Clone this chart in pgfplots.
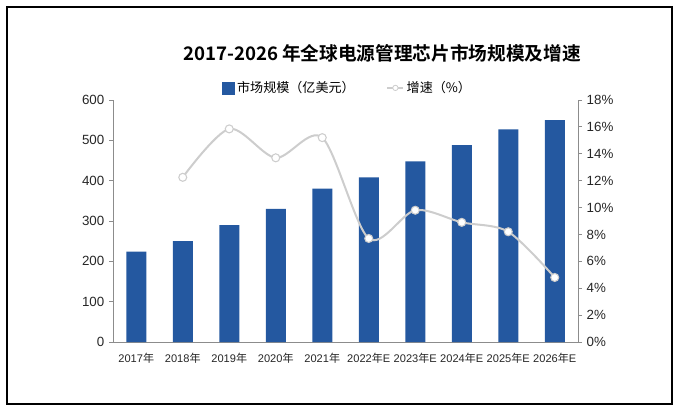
\documentclass[border=0pt]{standalone}
\usepackage{fontspec}
\setmainfont{Liberation Sans}
\newfontfamily\cjk{Noto Sans CJK SC}[BoldFont={* Bold}]
\usepackage{pgfplots}
\pgfplotsset{compat=1.18}
\definecolor{barblue}{RGB}{36,88,160}
\definecolor{lgray}{RGB}{205,205,205}
\definecolor{axgray}{RGB}{140,140,140}
\begin{document}
\begin{tikzpicture}[x=0.75pt,y=0.75pt]
\useasboundingbox (0,0) rectangle (679,412);
\draw[black, line width=1.5pt] (7,8) rectangle (672,405);
\node[font=\cjk\bfseries\fontsize{14}{16}\selectfont] at (382,359) {2017-2026 年全球电源管理芯片市场规模及增速};
\begin{axis}[
  at={(84.75pt,52.5pt)}, anchor=south west, scale only axis,
  width=348.75pt, height=181.5pt,
  xmin=-0.5, xmax=9.5, ymin=0, ymax=600,
  ytick={0,100,...,600},
  axis x line*=bottom, axis y line*=left,
  axis line style={axgray, line width=0.6pt},
  xtick={0,...,9},
  xticklabels={2017{\cjk 年},2018{\cjk 年},2019{\cjk 年},2020{\cjk 年},2021{\cjk 年},2022{\cjk 年}E,2023{\cjk 年}E,2024{\cjk 年}E,2025{\cjk 年}E,2026{\cjk 年}E},
  xtick style={draw=none},
  minor xtick={-0.5,0.5,...,9.5},
  minor x tick style={axgray, line width=0.6pt},
  minor tick length=4pt,
  ytick style={axgray, line width=0.6pt},
  major tick length=3pt,
  tick align=outside,
  /pgf/number format/assume math mode=true,
  yticklabel style={font=\fontsize{10}{12}\selectfont, text=black!85},
  xticklabel style={font=\fontsize{8.3}{10}\selectfont, text=black!85, yshift=-2pt},
]
\addplot[ybar, bar width=15pt, fill=barblue, draw=none] coordinates {
(0,224) (1,250) (2,290) (3,330) (4,380) (5,408) (6,448) (7,488) (8,527) (9,550)};
\end{axis}
\begin{axis}[
  at={(84.75pt,52.5pt)}, anchor=south west, scale only axis,
  width=348.75pt, height=181.5pt,
  xmin=-0.5, xmax=9.5, ymin=0, ymax=18,
  ytick={0,2,...,18},
  axis x line=none, axis y line*=right,
  axis line style={axgray, line width=0.6pt},
  ytick style={axgray, line width=0.6pt},
  major tick length=3pt,
  tick align=outside,
  /pgf/number format/assume math mode=true,
  yticklabel={\pgfmathprintnumber{\tick}\%},
  yticklabel style={font=\fontsize{10}{12}\selectfont, text=black!85},
  legend style={at={(0.505,1.05)}, anchor=center, draw=none, fill=none,
    font=\cjk\fontsize{9.8}{11}\selectfont, legend columns=2,
    /tikz/every even column/.append style={column sep=22pt}},
  legend image code/.code={},
]
\addlegendimage{legend image code/.code={\fill[barblue] (0pt,-4.5pt) rectangle (9pt,4.5pt);}}
\addlegendentry{市场规模（亿美元）}
\addlegendimage{legend image code/.code={\draw[lgray, line width=1pt] (0pt,0pt) -- (12pt,0pt); \draw[lgray, fill=white, line width=0.6pt] (6pt,0pt) circle (2pt);}}
\addlegendentry{增速（\%）}
\addplot[lgray, line width=1.5pt, smooth, mark=*, mark options={fill=white, draw=lgray, line width=0.8pt}, mark size=3pt, forget plot] coordinates {
(1,12.25) (2,15.85) (3,13.7) (4,15.2) (5,7.7) (6,9.8) (7,8.9) (8,8.2) (9,4.8)};
\end{axis}
\end{tikzpicture}
\end{document}
